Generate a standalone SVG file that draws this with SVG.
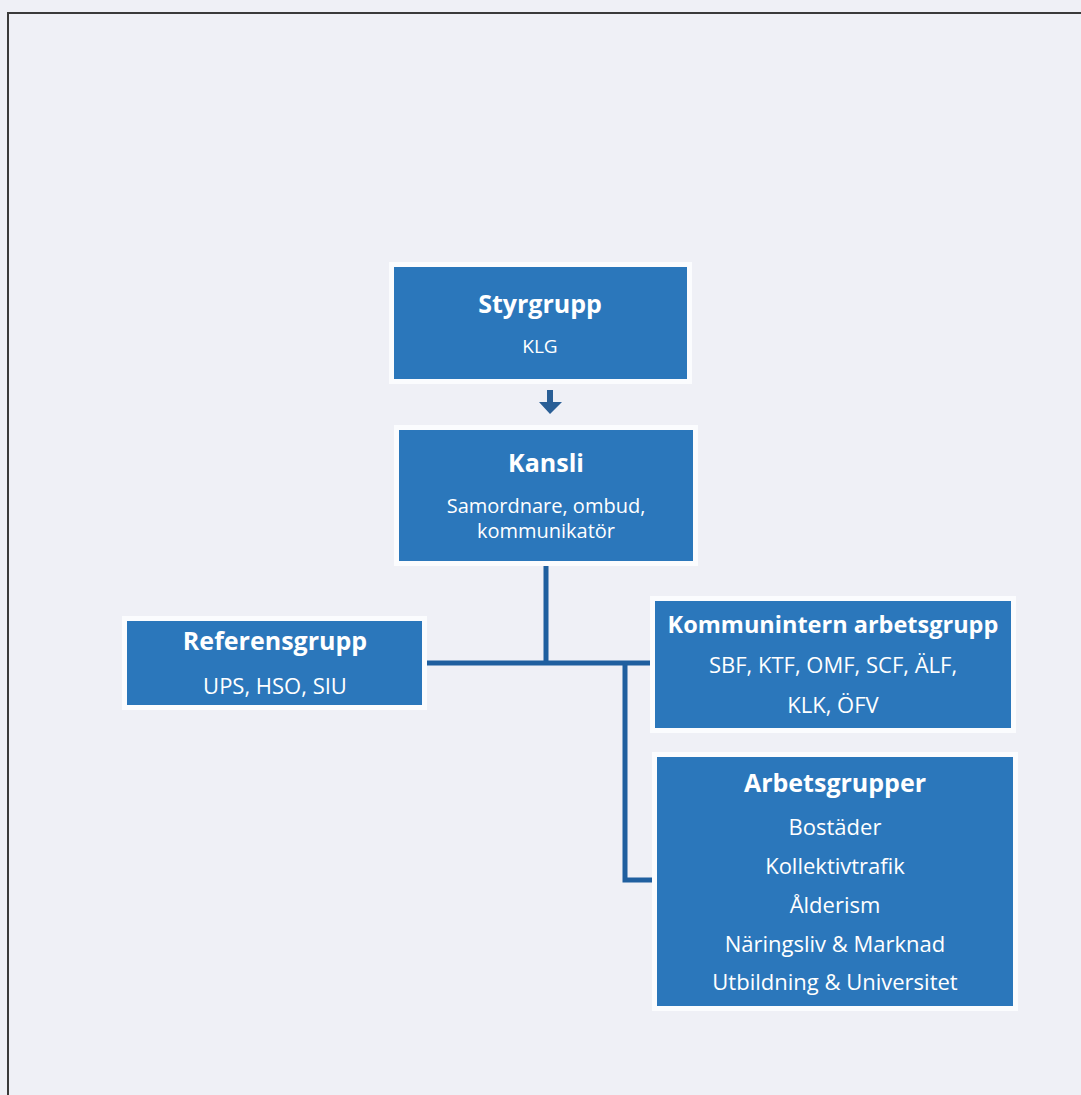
<svg xmlns="http://www.w3.org/2000/svg" width="1081" height="1095" viewBox="0 0 1081 1095">
<style>
.bg{fill:#eff0f6}
.frame{fill:none;stroke:#3a3a3a;stroke-width:2}
.halo{fill:#fbfcfe}
.box{fill:#2b77bb}
.t{font-family:"Open Sans","Liberation Sans",sans-serif;fill:#ffffff;text-anchor:middle}
.h{font-weight:700;font-size:25px}
.hs{font-weight:700;font-size:23.5px}
.b{font-size:20px}
.bl{font-size:22px}
.ln{fill:none;stroke:#1f5f9f;stroke-width:5}
</style>
<rect class="bg" x="0" y="0" width="1081" height="1095"/>
<path class="frame" d="M8,1095 V13 H1081"/>
<g id="connectors">
<path class="ln" d="M546,561 V663"/>
<path class="ln" d="M422,663 H655"/>
<path class="ln" d="M625,663 V880 H658"/>
<path d="M547,390 H553 V402 H562 L550,414 L539,402 H547 Z" fill="#2a5f96"/>
</g>
<g id="styrgrupp">
<rect class="halo" x="389" y="262" width="303" height="122"/>
<rect class="box" x="394" y="267" width="293" height="112"/>
<text class="t h" x="540" y="313">Styrgrupp</text>
<text class="t" x="540" y="353" font-size="19">KLG</text>
</g>
<g id="kansli">
<rect class="halo" x="394" y="425" width="304" height="141"/>
<rect class="box" x="399" y="430" width="294" height="131"/>
<text class="t h" x="546" y="472">Kansli</text>
<text class="t b" x="546" y="513">Samordnare, ombud,</text>
<text class="t b" x="546" y="538">kommunikatör</text>
</g>
<g id="referensgrupp">
<rect class="halo" x="122" y="616" width="305" height="94"/>
<rect class="box" x="127" y="621" width="295" height="84"/>
<text class="t h" x="275" y="650">Referensgrupp</text>
<text class="t bl" x="275" y="694">UPS, HSO, SIU</text>
</g>
<g id="kommunintern">
<rect class="halo" x="650" y="596" width="366" height="137"/>
<rect class="box" x="655" y="601" width="356" height="127"/>
<text class="t hs" x="833" y="633">Kommunintern arbetsgrupp</text>
<text class="t bl" x="833" y="673">SBF, KTF, OMF, SCF, ÄLF,</text>
<text class="t bl" x="833" y="713">KLK, ÖFV</text>
</g>
<g id="arbetsgrupper">
<rect class="halo" x="652" y="752" width="366" height="259"/>
<rect class="box" x="657" y="757" width="356" height="249"/>
<text class="t h" x="835" y="792">Arbetsgrupper</text>
<text class="t bl" x="835" y="835">Bostäder</text>
<text class="t bl" x="835" y="874">Kollektivtrafik</text>
<text class="t bl" x="835" y="913">Ålderism</text>
<text class="t bl" x="835" y="952">Näringsliv &amp; Marknad</text>
<text class="t bl" x="835" y="990">Utbildning &amp; Universitet</text>
</g>
</svg>
